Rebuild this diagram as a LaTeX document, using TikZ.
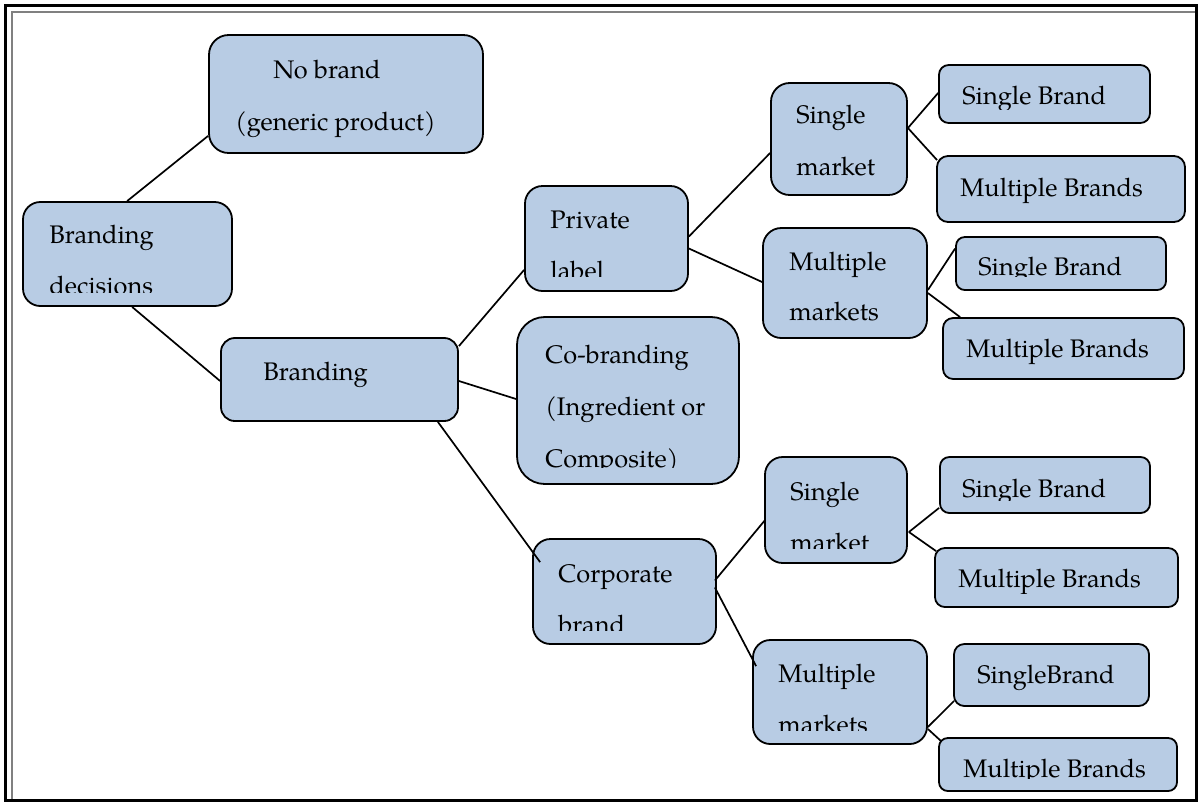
\documentclass[tikz,border=0pt]{standalone}
\usepackage{fontspec}
\setmainfont{TeX Gyre Pagella}
\usetikzlibrary{fit,calc}
\definecolor{boxfill}{RGB}{184,204,228}
\tikzset{
  box/.style={draw=black, line width=0.9pt, fill=boxfill, inner sep=0pt},
  txt/.style={inner sep=0pt, anchor=base west, font=\fontsize{12.7}{15}\selectfont},
  conn/.style={draw=black, line width=0.85pt}
}
% name x1 y1 x2 y2 clipoffset textcommands
\newcommand\bbox[7]{%
  \pgfmathsetmacro\rr{0.1667*min(#4-#2,#5-#3)*0.5}%
  \node[box, rounded corners=\rr pt, fit={(#2,#3) (#4,#5)}] (#1) {};
  \begin{scope}
    \clip (#2,#3) rectangle (#4,#5-#6);
    #7
  \end{scope}}
\newcommand\tl[4]{\node[txt] (#1) at (#2,#3) {#4};}
\begin{document}
\begin{tikzpicture}[x=0.5pt,y=-0.5pt]
\useasboundingbox (0,0) rectangle (1200,805);
\fill[white] (0,0) rectangle (1200,805);
% frame
\draw[black, line width=1.5pt] (5,5) rectangle (1196,800);
\draw[gray, line width=1.4pt] (12,799) -- (12,12) -- (1195,12);
% boxes
\bbox{nb}{209}{35}{483}{153}{14}{\tl{nb1}{273}{78}{No brand}\tl{nb2}{235}{130}{(generic product)}}
\bbox{bd}{23}{202}{232}{306}{14}{\tl{bd1}{49}{243}{Branding}\tl{bd2}{49}{294}{decisions}}
\bbox{br}{221}{338}{458}{421}{14}{\tl{br1}{263}{380}{Branding}}
\bbox{pl}{525}{186}{688}{291}{15}{\tl{pl1}{550}{228}{Private}\tl{pl2}{550}{279}{label}}
\bbox{co}{517}{317}{739}{484}{17}{\tl{co1}{545}{363}{Co-branding}\tl{co2}{545}{415}{(Ingredient or}\tl{co3}{545}{467}{Composite)}}
\bbox{cb}{533}{539}{716}{644}{14}{\tl{cb1}{558}{582}{Corporate}\tl{cb2}{558}{633}{brand}}
\bbox{smA}{771}{83}{907}{195}{14}{\tl{smA1}{796}{123}{Single}\tl{smA2}{796}{175}{market}}
\bbox{sbA}{939}{65}{1150}{123}{14}{\tl{sbA1}{962}{104}{Single Brand}}
\bbox{mbA}{937}{156}{1185}{222}{14}{\tl{mbA1}{960}{196}{Multiple Brands}}
\bbox{mmA}{763}{228}{927}{338}{14}{\tl{mmA1}{789}{270}{Multiple}\tl{mmA2}{789}{320}{markets}}
\bbox{sbB}{956}{237}{1166}{290}{14}{\tl{sbB1}{978}{275}{Single Brand}}
\bbox{mbB}{943}{318}{1184}{379}{14}{\tl{mbB1}{966}{357}{Multiple Brands}}
\bbox{smB}{765}{457}{907}{563}{15}{\tl{smB1}{790}{500}{Single}\tl{smB2}{790}{551}{market}}
\bbox{sbC}{940}{457}{1150}{513}{13}{\tl{sbC1}{962}{497}{Single Brand}}
\bbox{mbC}{935}{548}{1178}{607}{14}{\tl{mbC1}{958}{587}{Multiple Brands}}
\bbox{mmB}{753}{640}{927}{744}{14}{\tl{mmB1}{778}{682}{Multiple}\tl{mmB2}{778}{733}{markets}}
\bbox{sbD}{954}{644}{1149}{706}{14}{\tl{sbD1}{977}{683}{SingleBrand}}
\bbox{mbD}{939}{738}{1177}{791}{13}{\tl{mbD1}{963}{777}{Multiple Brands}}
% connectors
\draw[conn] ($(bd.north west)+(105,0)$) -- ($(nb.south west)+(0,-18)$);
\draw[conn] ($(bd.south west)+(110,0)$) -- ($(br.west)+(0,1.5)$);
\draw[conn] ($(br.north east)+(0,9)$) -- ($(pl.south west)+(0,-22)$);
\draw[conn] ($(br.east)+(0,1.5)$) -- ($(co.west)+(0,-1.5)$);
\draw[conn] ($(br.south east)+(-21,0)$) -- ($(cb.north west)+(8,24)$);
\draw[conn] ($(pl.east)+(0,-2)$) -- ($(smA.west)+(0,14)$);
\draw[conn] ($(pl.east)+(0,10)$) -- ($(mmA.west)+(0,-1)$);
\draw[conn] ($(cb.east)+(-2,-11)$) -- ($(smB.west)+(1,10)$);
\draw[conn] ($(cb.east)+(-2,-4)$) -- ($(mmB.north west)+(4,27)$);
\draw[conn] ($(smA.east)+(0,-11)$) -- ($(sbA.west)+(0,-1)$);
\draw[conn] ($(smA.east)+(0,-11)$) -- ($(mbA.north west)+(1,5)$);
\draw[conn] ($(mmA.east)+(0,7)$) -- ($(sbB.west)+(0,-15)$);
\draw[conn] ($(mmA.east)+(0,10)$) -- ($(mbB.north west)+(18,0)$);
\draw[conn] ($(smB.east)+(1,22)$) -- ($(sbC.south west)+(0,-6)$);
\draw[conn] ($(smB.east)+(1,22)$) -- ($(mbC.north west)+(2,4)$);
\draw[conn] ($(mmB.east)+(0,35)$) -- ($(sbD.south west)+(1,-6)$);
\draw[conn] ($(mmB.east)+(0,37)$) -- ($(mbD.north west)+(3,4)$);
\end{tikzpicture}
\end{document}
